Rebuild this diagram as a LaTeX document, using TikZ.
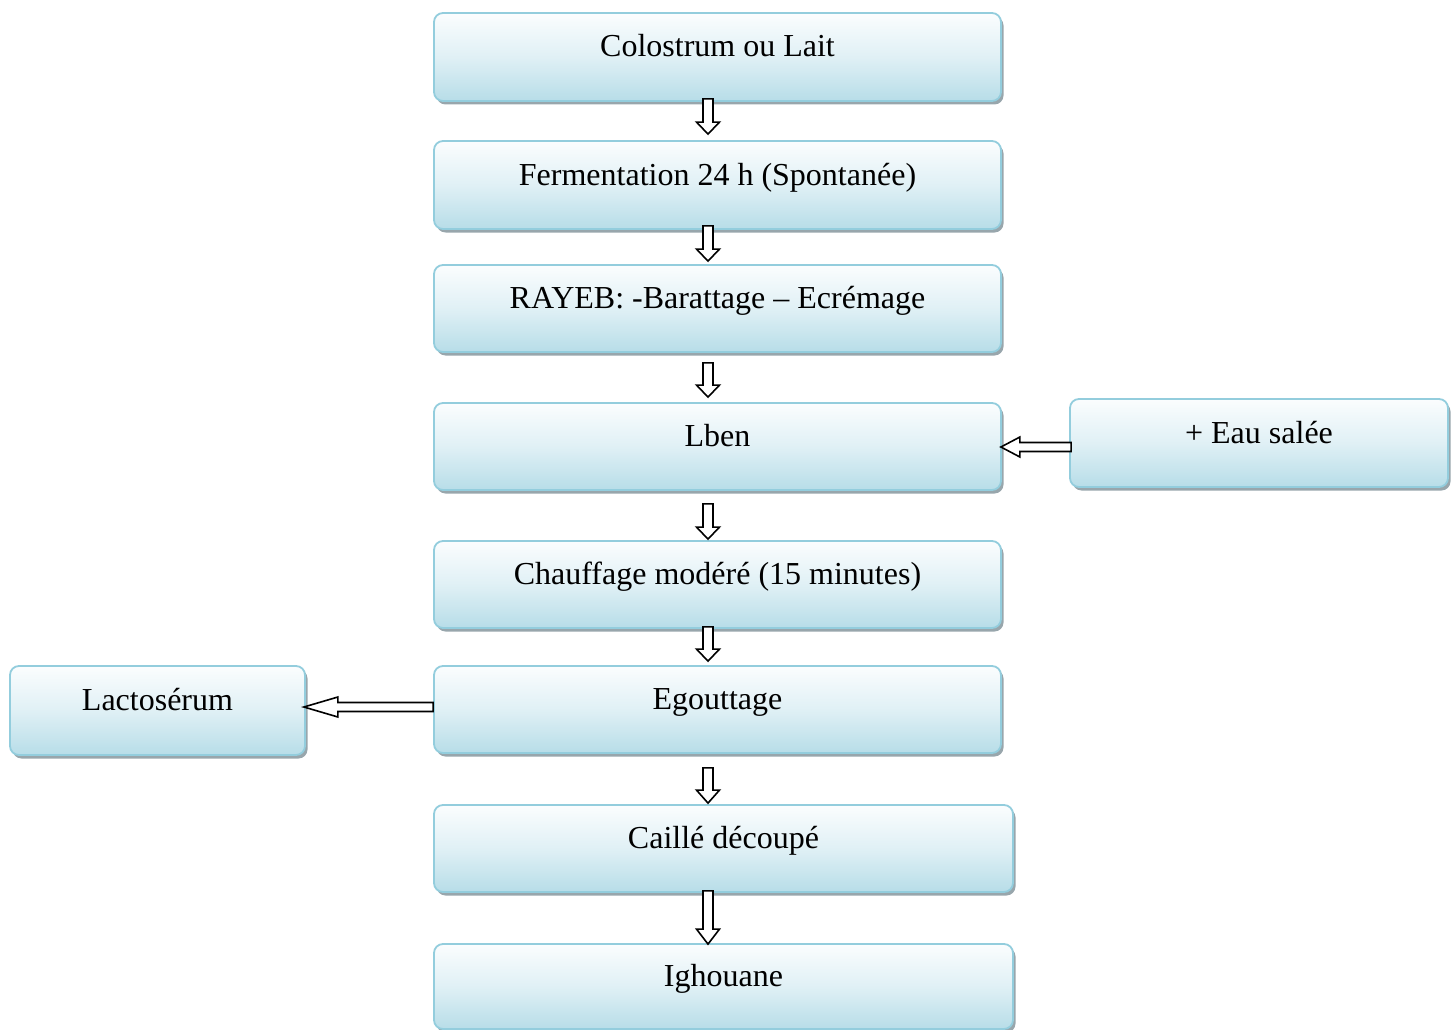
\documentclass[tikz,border=0pt]{standalone}
\usepackage{fontspec}
\setmainfont{Liberation Serif}
\usetikzlibrary{calc,shadows}
\definecolor{boxborder}{HTML}{93CDDD}
\definecolor{boxbottom}{HTML}{B7DDE8}
\definecolor{boxtop}{HTML}{FBFDFE}
\definecolor{shadowgray}{HTML}{98A6AC}
\tikzset{
  stepbox/.style={draw=boxborder, line width=1.8pt, rounded corners=9pt,
    top color=boxtop, bottom color=boxbottom, middle color=boxbottom!40!boxtop,
    inner sep=0pt, text height=0pt, text depth=0pt,
    font=\fontsize{32}{38}\selectfont,
    general shadow={fill=shadowgray, shadow xshift=2.5pt, shadow yshift=-3.5pt}},
  arrowline/.style={draw=black, line width=1.6pt, fill=white, line join=miter}
}
\newcommand\hollowdown[3]{%
  \draw[arrowline] let \p1=(#1), \p2=(#2) in
    (\x1-5pt,\y1) -- (\x1+5pt,\y1) -- (\x1+5pt,\y2+#3) -- (\x1+11.5pt,\y2+#3)
    -- (\x1,\y2) -- (\x1-11.5pt,\y2+#3) -- (\x1-5pt,\y2+#3) -- cycle;}
\newcommand\hollowleft[3]{%
  \draw[arrowline] let \p1=(#1), \p2=(#2) in
    (\x1,\y1-4.5pt) -- (\x1,\y1+4.5pt) -- (\x2+#3,\y1+4.5pt) -- (\x2+#3,\y1+10pt)
    -- (\x2,\y1) -- (\x2+#3,\y1-10pt) -- (\x2+#3,\y1-4.5pt) -- cycle;}
\begin{document}
\begin{tikzpicture}[x=1pt,y=-1pt]
\useasboundingbox (0,0) rectangle (1456,1030);
\node[stepbox, minimum width=567pt, minimum height=88pt] (A) at (717.5,57) {Colostrum ou Lait};
\node[stepbox, minimum width=567pt, minimum height=88pt] (B) at (717.5,185) {Fermentation 24 h (Spontanée)};
\node[stepbox, minimum width=567pt, minimum height=87pt] (C) at (717.5,308.5) {RAYEB: -Barattage – Ecrémage};
\node[stepbox, minimum width=567pt, minimum height=87pt] (D) at (717.5,446.5) {Lben};
\node[stepbox, minimum width=378pt, minimum height=88pt] (E) at (1259,443) {+ Eau salée};
\node[stepbox, minimum width=567pt, minimum height=87pt] (F) at (717.5,584.5) {Chauffage modéré (15 minutes)};
\node[stepbox, minimum width=567pt, minimum height=87pt] (G) at (717.5,709.5) {Egouttage};
\node[stepbox, minimum width=295pt, minimum height=89pt] (H) at (157.5,710.5) {Lactosérum};
\node[stepbox, minimum width=579pt, minimum height=87pt] (I) at (723.5,848.5) {Caillé découpé};
\node[stepbox, minimum width=579pt, minimum height=85pt] (J) at (723.5,986.5) {Ighouane};
\hollowdown{$(A.south)+(-9.5,-3)$}{$(B.north)+(-9.5,-6)$}{12pt}
\hollowdown{$(B.south)+(-9.5,-4)$}{$(C.north)+(-9.5,-3)$}{12pt}
\hollowdown{$(C.south)+(-9.5,10)$}{$(D.north)+(-9.5,-5)$}{12pt}
\hollowdown{$(D.south)+(-9.5,13)$}{$(F.north)+(-9.5,-1)$}{12pt}
\hollowdown{$(F.south)+(-9.5,-2)$}{$(G.north)+(-9.5,-4)$}{12pt}
\hollowdown{$(G.south)+(-9.5,14)$}{$(I.north)+(-15.5,-1)$}{13pt}
\hollowdown{$(I.south)+(-15.5,-2)$}{$(J.north)+(-15.5,1)$}{15pt}
\hollowleft{$(E.west)+(2,4)$}{$(D.east)+(-1,0)$}{19pt}
\hollowleft{$(G.west)+(0,-2.5)$}{$(H.east)+(-2,0)$}{34pt}
\end{tikzpicture}
\end{document}
